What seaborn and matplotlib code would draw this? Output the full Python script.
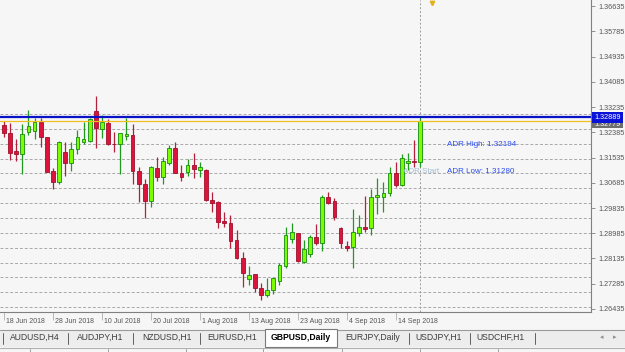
import numpy as np
import pandas as pd
import seaborn as sns
import matplotlib
matplotlib.use("Agg")
import matplotlib.pyplot as plt
from matplotlib.patches import Rectangle
from matplotlib.lines import Line2D
import matplotlib.transforms as mtransforms

# ---------------- data ----------------
opens = [1.32619, 1.32370, 1.31754, 1.31643, 1.32383, 1.32437, 1.32740, 1.32215, 1.31081, 1.30700,
         1.31730, 1.31360, 1.31831, 1.32057, 1.32101, 1.33100, 1.32495, 1.32707, 1.32000, 1.31979,
         1.32249, 1.32293, 1.31091, 1.30633, 1.30071, 1.31172, 1.30889, 1.31360, 1.31845, 1.31003,
         1.31057, 1.31283, 1.31124, 1.31114, 1.30104, 1.30047, 1.29408, 1.29340, 1.28758, 1.28142,
         1.27435, 1.27613, 1.27132, 1.26906, 1.27075, 1.27378, 1.27883, 1.28781, 1.28990, 1.28027,
         1.28287, 1.28849, 1.28667, 1.30195, 1.30071, 1.29162, 1.28556, 1.28512, 1.28983, 1.29206,
         1.29152, 1.30195, 1.30216, 1.30330, 1.31023, 1.30609, 1.31360, 1.31427, 1.31394]
highs = [1.32774, 1.32686, 1.32148, 1.32653, 1.33134, 1.32855, 1.32855, 1.32235, 1.31172, 1.32101,
         1.32067, 1.32067, 1.32461, 1.32720, 1.32855, 1.33605, 1.32966, 1.32821, 1.32383, 1.32370,
         1.32855, 1.32663, 1.31225, 1.30801, 1.31249, 1.31562, 1.31562, 1.31956, 1.32067, 1.31283,
         1.31475, 1.31697, 1.31394, 1.31138, 1.30384, 1.30071, 1.29711, 1.29600, 1.29095, 1.28344,
         1.27883, 1.27620, 1.27321, 1.27489, 1.27489, 1.27974, 1.29206, 1.29320, 1.29004, 1.28758,
         1.28926, 1.29286, 1.30273, 1.30384, 1.30162, 1.29206, 1.28724, 1.29791, 1.29600, 1.30239,
         1.30465, 1.30835, 1.30720, 1.31205, 1.31394, 1.31653, 1.31697, 1.32124, 1.32932]
lows = [1.32235, 1.31451, 1.31417, 1.30970, 1.32293, 1.32158, 1.31878, 1.31037, 1.30465, 1.30643,
        1.30912, 1.31091, 1.31653, 1.31979, 1.32067, 1.31845, 1.32181, 1.31956, 1.31730, 1.30970,
        1.32124, 1.30633, 1.30047, 1.29488, 1.29879, 1.30754, 1.30643, 1.31283, 1.31003, 1.30754,
        1.30912, 1.30835, 1.30889, 1.30081, 1.29711, 1.29152, 1.29185, 1.28479, 1.28130, 1.27186,
        1.27243, 1.26997, 1.26738, 1.26829, 1.26940, 1.27243, 1.27805, 1.28647, 1.28027, 1.27974,
        1.28196, 1.28590, 1.28398, 1.29960, 1.29431, 1.28479, 1.28404, 1.27805, 1.28893, 1.29037,
        1.28926, 1.29623, 1.29711, 1.30239, 1.30532, 1.30576, 1.31114, 1.31225, 1.31225]
closes = [1.32370, 1.31676, 1.31653, 1.32326, 1.32596, 1.32720, 1.32215, 1.31057, 1.30700, 1.32047,
          1.31360, 1.31821, 1.32215, 1.32168, 1.32821, 1.32518, 1.32720, 1.31979, 1.31979, 1.32350,
          1.32316, 1.31081, 1.30633, 1.30081, 1.31225, 1.30889, 1.31417, 1.31845, 1.31023, 1.30889,
          1.31283, 1.31138, 1.31205, 1.30104, 1.29993, 1.29374, 1.29340, 1.28734, 1.28142, 1.27657,
          1.27580, 1.27132, 1.26906, 1.27075, 1.27469, 1.27916, 1.28926, 1.29017, 1.28051, 1.28445,
          1.28869, 1.28647, 1.30216, 1.30014, 1.29542, 1.28667, 1.28499, 1.29017, 1.29206, 1.29128,
          1.30195, 1.30273, 1.30330, 1.31003, 1.30609, 1.31508, 1.31427, 1.31394, 1.32779]
dates = pd.bdate_range("2018-06-18", periods=len(opens))
date_label_pos = [0, 8, 16, 24, 32, 40, 48, 56, 64]
price_ticks = [1.26435, 1.27285, 1.28135, 1.28985, 1.29835, 1.30685, 1.31535,
               1.32385, 1.33235, 1.34085, 1.34935, 1.35785, 1.36635]
round_levels = [1.265, 1.270, 1.275, 1.280, 1.285, 1.290, 1.295,
                1.300, 1.305, 1.310, 1.315, 1.320, 1.325, 1.330]
hline_level = 1.32889
bid_level = 1.32779
adr_high = 1.32194
adr_low = 1.31280
adr_start_idx = 68
tabs = ["AUDUSD,H4", "AUDJPY,H1", "NZDUSD,H1", "EURUSD,H1", "GBPUSD,Daily",
        "EURJPY,Daily", "USDJPY,H1", "USDCHF,H1"]
active_tab = "GBPUSD,Daily"

# ---------------- style ----------------
sns.set_theme(style="white")
plt.rcParams["font.family"] = ["Liberation Sans", "DejaVu Sans"]

W, H = 625, 352
BG = "#f6f6f6"
fig = plt.figure(figsize=(W / 100, H / 100), dpi=100, facecolor=BG)
ax = fig.add_axes([0, 40 / H, 591 / W, 312 / H])
ax.set_facecolor(BG)

def fx(x):
    return x / W

def fy(y):
    return 1 - y / H

df = pd.DataFrame({"date": dates, "open": opens, "high": highs, "low": lows, "close": closes})
df["i"] = np.arange(len(df))
df["bull"] = df["close"] >= df["open"]

# round-number levels
for lv in round_levels:
    ax.axhline(lv, color="#a9a9a9", lw=0.7, ls=(0, (3, 2)), zorder=1)

# wicks & bodies
wick_c = np.where(df["bull"], "#1f9a1f", "#b3203c")
body_c = np.where(df["bull"], "#7CFC00", "#DC143C")
edge_c = np.where(df["bull"], "#138a13", "#a0102e")
ax.vlines(df["i"], df["low"], df["high"], colors=wick_c, lw=0.9, zorder=2)
body_h = np.maximum((df["close"] - df["open"]).abs(), 0.00025)
body_b = np.minimum(df["open"], df["close"])
ax.bar(df["i"], body_h, bottom=body_b, width=0.62, color=body_c,
       edgecolor=edge_c, linewidth=0.6, zorder=3)

# lines
ax.axhline(bid_level, color="#f0c020", lw=0.9, zorder=4)
ax.axhline(hline_level, color="#0a12c8", lw=1.6, zorder=5)
ax.axvline(adr_start_idx, color="#9a9a9a", lw=0.7, ls=(0, (2, 2)), zorder=1)

# limits (pixel mapping: bar i at x = 4 + 6.12 i)
ax.set_xlim(-4 / 6.12, (591 - 4) / 6.12)
ax.set_ylim(1.26334, 1.36837)

# chart shift marker
ax.plot([adr_start_idx + 1.95], [1.36720], marker="v", color="#e2b11c", ms=3.2,
        clip_on=False, zorder=6)

# ADR texts
ax.text(72.4, 1.31956, f"ADR High: {adr_high:.5f}", color="#2a4cf0", fontsize=5.8,
        va="center", ha="left", zorder=6)
ax.text(72.4, 1.31047, f"ADR Low: {adr_low:.5f}", color="#2a4cf0", fontsize=5.8,
        va="center", ha="left", zorder=6)
ax.text(65.2, 1.31047, "ADR Start", color="#a4bccf", fontsize=5.8,
        va="center", ha="left", zorder=6)

# axes styling
for s in ["left", "top"]:
    ax.spines[s].set_visible(False)
for s in ["right", "bottom"]:
    ax.spines[s].set_color("#808080")
    ax.spines[s].set_linewidth(0.8)

ax.yaxis.tick_right()
ax.set_yticks(price_ticks)
ax.set_yticklabels([f"{v:.5f}" for v in price_ticks])
ax.tick_params(axis="y", which="both", right=True, left=False, length=3, width=0.6,
               color="#808080", labelsize=5.2, labelcolor="#555555", pad=2)
ax.set_xticks(date_label_pos)
ax.set_xticklabels([f"{dates[i].day} {dates[i].strftime('%b %Y')}" for i in date_label_pos])
ax.tick_params(axis="x", bottom=True, length=6, width=0.5, color="#a0a0a0",
               labelsize=5.0, labelcolor="#555555", pad=-2)
off = mtransforms.ScaledTranslation(2 / 100, 0, fig.dpi_scale_trans)
for lab in ax.get_xticklabels():
    lab.set_ha("left")
    lab.set_transform(lab.get_transform() + off)
ax.grid(False)

# price labels (bid gray box, horizontal-line blue box)
def price_box(y_top, y_bot, fc, txt, z):
    fig.patches.append(Rectangle((fx(592), fy(y_bot)), fx(623) - fx(592), fy(y_top) - fy(y_bot),
                                 transform=fig.transFigure, facecolor=fc, edgecolor="none", zorder=z))
    fig.text(fx(607.5), fy((y_top + y_bot) / 2), txt, color="white", fontsize=5.2,
             ha="center", va="center", zorder=z + 1)

price_box(120.5, 128, "#6e6e6e", f"{bid_level:.5f}", 10)
price_box(112.5, 122.5, "#0a12d8", f"{hline_level:.5f}", 12)

# tab bar
fig.patches.append(Rectangle((0, fy(347)), 1, fy(330) - fy(347), transform=fig.transFigure,
                             facecolor="#ededed", edgecolor="none", zorder=1))
fig.add_artist(Line2D([0, 1], [fy(330), fy(330)], color="#9a9a9a", lw=0.8, transform=fig.transFigure))
fig.add_artist(Line2D([0, 1], [fy(347.5), fy(347.5)], color="#b0b0b0", lw=0.8, transform=fig.transFigure))
tab_centers = [35, 100.5, 166.5, 232, 301, 373, 439, 500.5]
seps = [3, 68, 133, 200, 409, 470, 535]
fig.patches.append(Rectangle((fx(265), fy(347)), fx(337) - fx(265), fy(329) - fy(347),
                             transform=fig.transFigure, facecolor="white", edgecolor="#7a7a7a",
                             lw=0.8, zorder=2))
for s in seps:
    fig.add_artist(Line2D([fx(s), fx(s)], [fy(333), fy(344)], color="#606060", lw=0.7,
                          transform=fig.transFigure))
for name, cx in zip(tabs, tab_centers):
    active = name == active_tab
    fig.text(fx(cx), fy(337.5), name, fontsize=6.2, ha="center", va="center",
             color="#000000" if active else "#3c3c3c",
             fontweight="bold" if active else "normal", zorder=3)
fig.text(fx(602), fy(337.5), "\u25c2", fontsize=5, color="#909090", ha="center", va="center",
         family=["DejaVu Sans"])
fig.text(fx(615), fy(337.5), "\u25b8", fontsize=5, color="#909090", ha="center", va="center",
         family=["DejaVu Sans"])
for s in [30, 108, 186, 263, 342, 420, 498]:
    fig.add_artist(Line2D([fx(s), fx(s)], [fy(349), fy(352)], color="#a0a0a0", lw=0.7,
                          transform=fig.transFigure))

fig.savefig("out.png", dpi=100, facecolor=BG)
